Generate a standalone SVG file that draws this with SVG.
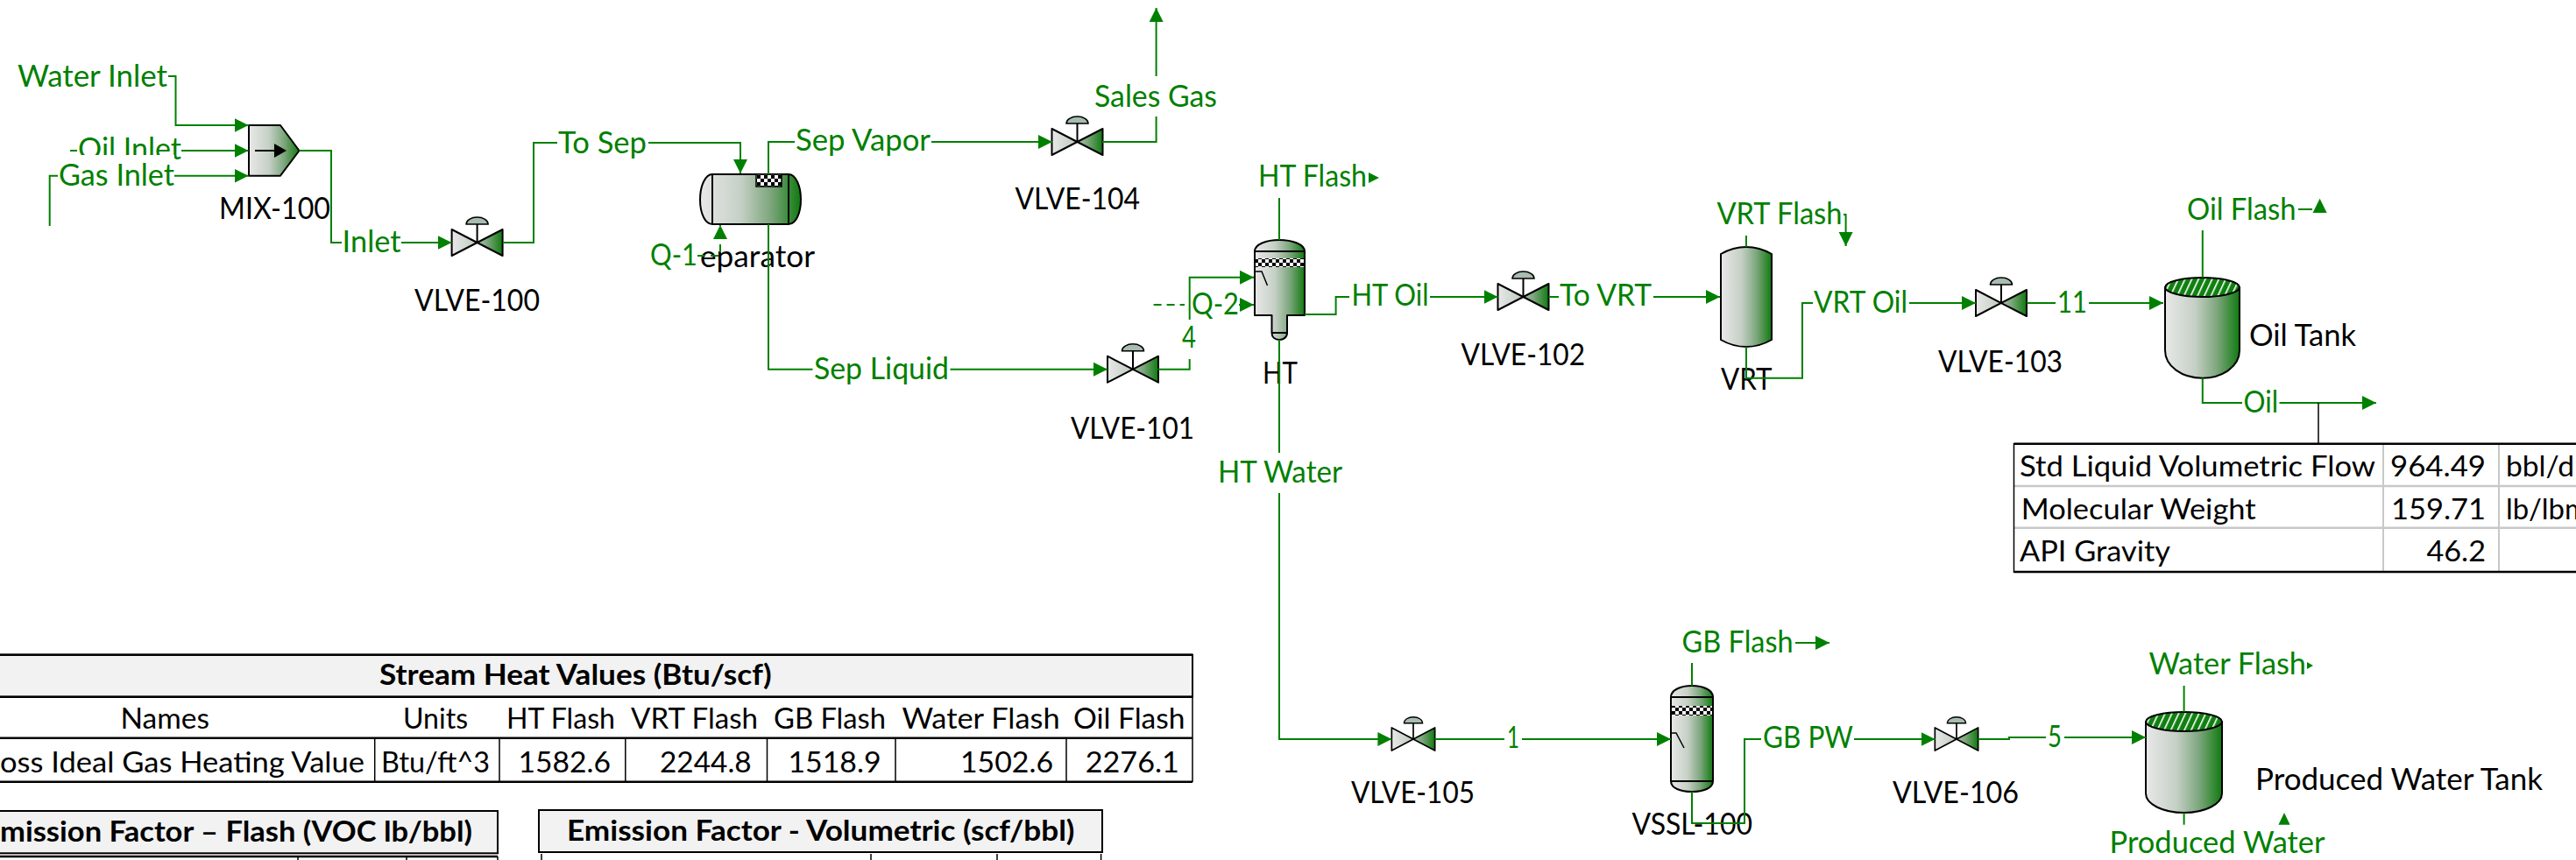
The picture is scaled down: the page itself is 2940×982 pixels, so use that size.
<svg xmlns="http://www.w3.org/2000/svg" width="2940" height="982" viewBox="0 0 2940 982">
<style>
text{font-family:Lato,"Open Sans","Liberation Sans",sans-serif;font-size:34px}
.g{fill:#008000}
.k{fill:#000}
.t{fill:#000;font-size:32px}
.b{fill:#000;font-size:32px;font-weight:700}
.s{fill:none;stroke:#008000;stroke-width:2}
.d{stroke-dasharray:9 6}
.a{fill:#008000}
.v{fill:url(#grad);stroke:#000;stroke-width:2;stroke-linejoin:round}
.l{fill:none;stroke:#000;stroke-width:2}
.m{stroke:#000;stroke-width:2}
.hd{fill:#f2f2f2;stroke:#000;stroke-width:2}
.dk{stroke:#000;stroke-width:2.5;fill:none}
.th{stroke:#000;stroke-width:1.5;fill:none}
.gy{stroke:#c8c8c8;stroke-width:2.5;fill:none}
</style>
<defs>
<linearGradient id="grad" x1="0" y1="0" x2="1" y2="0">
<stop offset="0" stop-color="#e8e8e8"/><stop offset=".4" stop-color="#c6d0c6"/><stop offset=".7" stop-color="#7da67d"/><stop offset="1" stop-color="#107a10"/>
</linearGradient>
<pattern id="check" width="8" height="8" patternUnits="userSpaceOnUse">
<rect width="8" height="8" fill="#fff"/><rect width="4" height="4" fill="#000"/><rect x="4" y="4" width="4" height="4" fill="#000"/>
</pattern>
<pattern id="hatch" width="7" height="7" patternUnits="userSpaceOnUse" patternTransform="rotate(25)">
<rect width="7" height="7" fill="#108010"/><rect width="1.6" height="7" fill="#fff"/>
</pattern>
<marker id="arr" markerUnits="userSpaceOnUse" markerWidth="17" markerHeight="18" refX="16" refY="9" orient="auto" viewBox="0 0 17 18">
<path d="M0,1 L16,9 L0,17 Z" fill="#008000"/>
</marker>
<g id="valve">
<path class="v" d="M-29,-15 L29,15 V-15 L-29,15 Z"/>
<path class="l" d="M0,0 V-21"/>
<path d="M-12.5,-21 A12.5,8 0 0 1 12.5,-21 Z" fill="#a8bcb0" stroke="#000" stroke-width="1.5"/>
</g>
</defs>
<rect width="2940" height="982" fill="#fff"/>

<g id="MIX-100">
<path class="v" d="M284,143 H320 L341.5,172 L320,200.7 H284 Z"/>
<path class="l" d="M291,172 H316"/><path d="M313,164 L327,172 L313,180 Z" fill="#000"/>
<text class="k" x="250" y="250" textLength="127" lengthAdjust="spacingAndGlyphs">MIX-100</text>
</g>
<g id="VLVE-100"><use href="#valve" transform="translate(544.6,277)"/><text class="k" x="473" y="355" textLength="143" lengthAdjust="spacingAndGlyphs">VLVE-100</text></g>
<g id="Separator">
<path class="v" d="M813,199 H900 C908,199 914,212 914,228 C914,244 908,256 900,256 H813 C805,256 799,244 799,228 C799,212 805,199 813,199 Z"/>
<path class="l" d="M813,199 V256 M900,199 V256"/>
<rect x="863" y="199" width="29" height="14" fill="url(#check)" stroke="#000" stroke-width="1.5"/>
<text class="k" x="799" y="305" textLength="131" lengthAdjust="spacingAndGlyphs">eparator</text>
</g>
<g id="VLVE-104"><use href="#valve" transform="translate(1229.5,162)"/><text class="k" x="1158.5" y="239" textLength="142.5" lengthAdjust="spacingAndGlyphs">VLVE-104</text></g>
<g id="VLVE-101"><use href="#valve" transform="translate(1293,421.7)"/><text class="k" x="1222" y="500.7" textLength="141" lengthAdjust="spacingAndGlyphs">VLVE-101</text></g>
<g id="HT">
<path class="v" d="M1432,287 C1432,279 1445,274 1460,274 C1475,274 1489,279 1489,287 V360 H1469 V380 C1469,385 1465,388 1460,388 C1455,388 1451.5,385 1451.5,380 V360 H1432 Z"/>
<path class="l" d="M1432,287 H1489 M1451.5,380 H1469"/>
<rect x="1433" y="295" width="55" height="10" fill="url(#check)"/>
<path d="M1433,310 H1440 L1446.5,326" fill="none" stroke="#000" stroke-width="1.5"/>
<text class="k" x="1441" y="437.7" textLength="40" lengthAdjust="spacingAndGlyphs">HT</text>
</g>
<g id="VLVE-102"><use href="#valve" transform="translate(1738.5,339)"/><text class="k" x="1667.5" y="416.7" textLength="141.5" lengthAdjust="spacingAndGlyphs">VLVE-102</text></g>
<g id="VRT">
<path class="v" d="M1964,290 Q1978,282 1993,282 Q2008,282 2022,290 V388 Q2008,396 1993,396 Q1978,396 1964,388 Z"/>
<text class="k" x="1964" y="445" textLength="58.6" lengthAdjust="spacingAndGlyphs">VRT</text>
</g>
<g id="VLVE-103"><use href="#valve" transform="translate(2284,346)"/><text class="k" x="2212" y="425" textLength="142" lengthAdjust="spacingAndGlyphs">VLVE-103</text></g>
<g id="Oil-Tank">
<path class="v" d="M2471,328 V400 C2471,418 2490,431.7 2513.7,431.7 C2537,431.7 2556,418 2556,400 V328 Z"/>
<ellipse cx="2513.5" cy="328" rx="42.5" ry="11" fill="url(#hatch)" stroke="#000" stroke-width="2"/>
<text class="k" x="2567" y="395" textLength="122" lengthAdjust="spacingAndGlyphs">Oil Tank</text>
</g>
<g id="VLVE-105"><use href="#valve" transform="translate(1613,844) scale(.85,.87)"/><text class="k" x="1542" y="917" textLength="141" lengthAdjust="spacingAndGlyphs">VLVE-105</text></g>
<g id="VSSL-100">
<path class="v" d="M1907,796 C1907,788 1918,783 1931,783 C1944,783 1955,788 1955,796 V892 C1955,900 1944,904 1931,904 C1918,904 1907,900 1907,892 Z"/>
<path class="l" d="M1907,796 H1955 M1907,892 H1955"/>
<rect x="1908" y="806" width="46" height="11" fill="url(#check)"/>
<path d="M1908,837 H1913 L1922,854" fill="none" stroke="#000" stroke-width="1.5"/>
<text class="k" x="1862.5" y="953" textLength="137.5" lengthAdjust="spacingAndGlyphs">VSSL-100</text>
</g>
<g id="VLVE-106"><use href="#valve" transform="translate(2233,844) scale(.85,.87)"/><text class="k" x="2160" y="917" textLength="144" lengthAdjust="spacingAndGlyphs">VLVE-106</text></g>
<g id="Produced-Water-Tank">
<path class="v" d="M2449,824 V906 C2449,918 2468,928 2492.6,928 C2517,928 2536,918 2536,906 V824 Z"/>
<ellipse cx="2492.5" cy="824" rx="43.5" ry="11" fill="url(#hatch)" stroke="#000" stroke-width="2"/>
<text class="k" x="2574" y="901.7" textLength="328" lengthAdjust="spacingAndGlyphs">Produced Water Tank</text>
</g>

<g id="connectors">
<path class="s" d="M192,87 H200.5 V143 H283.5" marker-end="url(#arr)"/>
<path class="s" d="M80,172 H88"/>
<path class="s" d="M207,172 H283.5" marker-end="url(#arr)"/>
<path class="s" d="M56.7,258 V200.7 H67"/>
<path class="s" d="M199,200.7 H283.5" marker-end="url(#arr)"/>
<path class="s" d="M341.5,172 H378 V277 H390"/>
<path class="s" d="M458,277 H515.6" marker-end="url(#arr)"/>
<path class="s" d="M574,277 H609 V163 H636"/>
<path class="s" d="M740,163 H845 V198" marker-end="url(#arr)"/>
<path class="s" d="M877,199 V162 H907"/>
<path class="s" d="M1063,162 H1201" marker-end="url(#arr)"/>
<path class="s" d="M1258,162 H1319.6 V133"/>
<path class="s" d="M1319.6,87 V9" marker-end="url(#arr)"/>
<path class="s d" d="M796,292 H822 V257" marker-end="url(#arr)"/>
<path class="s" d="M877,256 V421.7 H927.5"/>
<path class="s" d="M1084.5,421.7 H1264" marker-end="url(#arr)"/>
<path class="s" d="M1321.5,421.7 H1357.7 V410"/>
<path class="s" d="M1357.7,365 V316.7 H1431" marker-end="url(#arr)"/>
<path class="s d" d="M1316.6,348 H1352"/>
<path class="s" d="M1414,348 H1431" marker-end="url(#arr)"/>
<path class="s" d="M1460,226 V274"/>
<polygon class="a" points="1562,197 1574,203 1562,209"/>
<path class="s" d="M1489,359 H1524.6 V339 H1540"/>
<path class="s" d="M1632,339 H1709.5" marker-end="url(#arr)"/>
<path class="s" d="M1767.5,339 H1779"/>
<path class="s" d="M1887,339 H1963" marker-end="url(#arr)"/>
<path class="s" d="M1460,388 V517"/>
<path class="s" d="M1460,563 V844 H1588.4" marker-end="url(#arr)"/>
<path class="s" d="M1993,269 V282"/>
<path class="s" d="M2104,245 H2106.6 V281" marker-end="url(#arr)"/>
<path class="s" d="M1993,396 V431.7 H2057 V346 H2069"/>
<path class="s" d="M2179,346 H2255" marker-end="url(#arr)"/>
<path class="s" d="M2313,346 H2346"/>
<path class="s" d="M2384,346 H2469" marker-end="url(#arr)"/>
<path class="s" d="M2513.8,263 V317"/>
<path class="s" d="M2623,239 H2639"/>
<polygon class="a" points="2647.6,226.7 2655.6,243 2639.6,243"/>
<path class="s" d="M2513.8,431.7 V460 H2559"/>
<path class="s" d="M2601.5,460 H2712" marker-end="url(#arr)"/>
<path d="M2646,460 V506" stroke="#000" stroke-width="1.5" fill="none"/>
<path class="s" d="M1637.5,844 H1717"/>
<path class="s" d="M1737,844 H1907" marker-end="url(#arr)"/>
<path class="s" d="M1931,757 V783"/>
<path class="s" d="M2049,734 H2088" marker-end="url(#arr)"/>
<path class="s" d="M1931,904 V940 H1991 V844 H2010"/>
<path class="s" d="M2116,844 H2208.5" marker-end="url(#arr)"/>
<path class="s" d="M2257.6,844 H2293 V842 H2335"/>
<path class="s" d="M2356,842 H2449" marker-end="url(#arr)"/>
<path class="s" d="M2492.6,783 V813"/>
<polygon class="a" points="2633,756 2640,760 2633,764"/>
<path class="s" d="M2492.6,928 V941.7"/>
<polygon class="a" points="2607,928 2613.6,941.7 2600.4,941.7"/>
</g>

<g id="stream-labels">
<text class="g" x="20" y="99" textLength="171" lengthAdjust="spacingAndGlyphs">Water Inlet</text>
<text class="g" x="89" y="182" textLength="118" lengthAdjust="spacingAndGlyphs">Oil Inlet</text>
<rect x="66" y="177" width="133" height="40" fill="#fff"/>
<text class="g" x="67" y="212" textLength="132" lengthAdjust="spacingAndGlyphs">Gas Inlet</text>
<text class="g" x="390.6" y="288" textLength="67" lengthAdjust="spacingAndGlyphs">Inlet</text>
<text class="g" x="637" y="175" textLength="101" lengthAdjust="spacingAndGlyphs">To Sep</text>
<text class="g" x="908" y="172" textLength="154" lengthAdjust="spacingAndGlyphs">Sep Vapor</text>
<text class="g" x="1249" y="122" textLength="140" lengthAdjust="spacingAndGlyphs">Sales Gas</text>
<text class="g" x="742" y="303" textLength="54" lengthAdjust="spacingAndGlyphs">Q-1</text>
<text class="g" x="929" y="433" textLength="154" lengthAdjust="spacingAndGlyphs">Sep Liquid</text>
<text class="g" x="1349" y="397" textLength="16" lengthAdjust="spacingAndGlyphs">4</text>
<text class="g" x="1360" y="359" textLength="54" lengthAdjust="spacingAndGlyphs">Q-2</text>
<text class="g" x="1436" y="213" textLength="124" lengthAdjust="spacingAndGlyphs">HT Flash</text>
<text class="g" x="1542.5" y="349" textLength="88" lengthAdjust="spacingAndGlyphs">HT Oil</text>
<text class="g" x="1780" y="349" textLength="105" lengthAdjust="spacingAndGlyphs">To VRT</text>
<text class="g" x="1390" y="551" textLength="142" lengthAdjust="spacingAndGlyphs">HT Water</text>
<text class="g" x="1959.5" y="256" textLength="143" lengthAdjust="spacingAndGlyphs">VRT Flash</text>
<text class="g" x="2070" y="356.7" textLength="107" lengthAdjust="spacingAndGlyphs">VRT Oil</text>
<text class="g" x="2348" y="356.7" textLength="34" lengthAdjust="spacingAndGlyphs">11</text>
<text class="g" x="2496" y="250.7" textLength="124.5" lengthAdjust="spacingAndGlyphs">Oil Flash</text>
<text class="g" x="2560.5" y="470.7" textLength="39.5" lengthAdjust="spacingAndGlyphs">Oil</text>
<text class="g" x="1720" y="854" textLength="14" lengthAdjust="spacingAndGlyphs">1</text>
<text class="g" x="1919.6" y="745" textLength="127" lengthAdjust="spacingAndGlyphs">GB Flash</text>
<text class="g" x="2012" y="854" textLength="103" lengthAdjust="spacingAndGlyphs">GB PW</text>
<text class="g" x="2337" y="853" textLength="16" lengthAdjust="spacingAndGlyphs">5</text>
<text class="g" x="2452.5" y="770" textLength="179.5" lengthAdjust="spacingAndGlyphs">Water Flash</text>
<text class="g" x="2407.6" y="974" textLength="246" lengthAdjust="spacingAndGlyphs">Produced Water</text>
</g>

<g id="oil-table">
<path class="gy" d="M2298.5,555 H2940 M2298.5,602.7 H2940"/>
<path class="gy" style="stroke-width:2" d="M2720,507 V653 M2852,507 V653"/>
<path class="dk" d="M2298.5,506.7 H2940 M2298.5,653 H2940"/>
<path class="th" d="M2298.5,506 V654"/>
<text class="t" x="2305" y="544" textLength="406" lengthAdjust="spacingAndGlyphs">Std Liquid Volumetric Flow</text>
<text class="t" x="2728" y="544" textLength="109" lengthAdjust="spacingAndGlyphs">964.49</text>
<text class="t" x="2860" y="544" textLength="78" lengthAdjust="spacingAndGlyphs">bbl/d</text>
<text class="t" x="2306.7" y="592.7" textLength="268" lengthAdjust="spacingAndGlyphs">Molecular Weight</text>
<text class="t" x="2729" y="592.7" textLength="108" lengthAdjust="spacingAndGlyphs">159.71</text>
<text class="t" x="2860" y="592.7" textLength="94" lengthAdjust="spacingAndGlyphs">lb/lbm</text>
<text class="t" x="2305" y="640.7" textLength="172" lengthAdjust="spacingAndGlyphs">API Gravity</text>
<text class="t" x="2769.5" y="640.7" textLength="67.5" lengthAdjust="spacingAndGlyphs">46.2</text>
</g>

<g id="heat-table">
<rect x="-3" y="747.7" width="1364" height="48" class="hd"/>
<path class="dk" d="M0,747.7 H1361 M0,795.7 H1361 M0,842.7 H1361 M0,892.7 H1361"/>
<path class="th" d="M1361,747 V893 M427.7,843 V893 M570,843 V893 M713.8,843 V893 M875.5,843 V893 M1022,843 V893 M1217,843 V893"/>
<text class="b" x="433" y="781.7" textLength="447.6" lengthAdjust="spacingAndGlyphs">Stream Heat Values (Btu/scf)</text>
<text class="t" x="137.5" y="831.7" textLength="101.5" lengthAdjust="spacingAndGlyphs">Names</text>
<text class="t" x="460" y="831.7" textLength="74" lengthAdjust="spacingAndGlyphs">Units</text>
<text class="t" x="578" y="831.7" textLength="124" lengthAdjust="spacingAndGlyphs">HT Flash</text>
<text class="t" x="720" y="831.7" textLength="145" lengthAdjust="spacingAndGlyphs">VRT Flash</text>
<text class="t" x="883" y="831.7" textLength="128" lengthAdjust="spacingAndGlyphs">GB Flash</text>
<text class="t" x="1029.6" y="831.7" textLength="180" lengthAdjust="spacingAndGlyphs">Water Flash</text>
<text class="t" x="1225" y="831.7" textLength="127.5" lengthAdjust="spacingAndGlyphs">Oil Flash</text>
<text class="t" x="0" y="881.7" textLength="416" lengthAdjust="spacingAndGlyphs">oss Ideal Gas Heating Value</text>
<text class="t" x="435" y="881.7" textLength="124" lengthAdjust="spacingAndGlyphs">Btu/ft^3</text>
<text class="t" x="591.5" y="881.7" textLength="105.5" lengthAdjust="spacingAndGlyphs">1582.6</text>
<text class="t" x="753" y="881.7" textLength="104.6" lengthAdjust="spacingAndGlyphs">2244.8</text>
<text class="t" x="899.5" y="881.7" textLength="106" lengthAdjust="spacingAndGlyphs">1518.9</text>
<text class="t" x="1096" y="881.7" textLength="106" lengthAdjust="spacingAndGlyphs">1502.6</text>
<text class="t" x="1238.8" y="881.7" textLength="107" lengthAdjust="spacingAndGlyphs">2276.1</text>
</g>

<g id="flash-table">
<rect x="-3" y="926" width="571" height="48.3" class="hd"/>
<path class="dk" d="M0,978 H568"/>
<path class="th" d="M340,978 V982 M464,978 V982 M568,978 V982"/>
<text class="b" x="0" y="960.7" textLength="539" lengthAdjust="spacingAndGlyphs">mission Factor – Flash (VOC lb/bbl)</text>
</g>
<g id="volumetric-table">
<rect x="615" y="925" width="643" height="48" class="hd"/>
<path class="th" d="M618,975 V982 M994,975 V982 M1138,975 V982 M1256.6,975 V982"/>
<text class="b" x="647" y="960" textLength="579.5" lengthAdjust="spacingAndGlyphs">Emission Factor - Volumetric (scf/bbl)</text>
</g>
</svg>
